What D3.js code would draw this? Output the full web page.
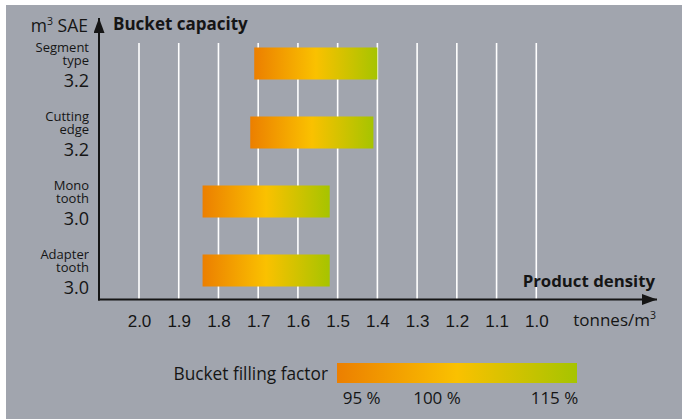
<!DOCTYPE html>
<html>
<head>
<meta charset="utf-8">
<script src="https://cdn.jsdelivr.net/npm/d3@7"></script>
<style>
  html, body { margin: 0; padding: 0; background: #ffffff; }
  svg { display: block; font-family: "Open Sans", "Noto Sans", sans-serif; }
  .name {
    font-family: "Open Sans", "Noto Sans", sans-serif;
    font-size: 13px; line-height: 12.8px; color: #151515;
    text-align: right; white-space: pre-line; margin: 0;
  }
</style>
</head>
<body>
<svg id="chart" width="682" height="419"></svg>
<script>
// Bucket types, their rated capacity (m³ SAE) and the product-density range
// (tonnes/m³) each suits, from high density (left end) to low density (right end).
const bucketNames = ["Segment\ntype", "Cutting\nedge", "Mono\ntooth", "Adapter\ntooth"];
const bucketCapacity = ["3.2", "3.2", "3.0", "3.0"];
const densityHigh = [1.71, 1.72, 1.84, 1.84];
const densityLow = [1.40, 1.41, 1.52, 1.52];
const densityTicks = [2.0, 1.9, 1.8, 1.7, 1.6, 1.5, 1.4, 1.3, 1.2, 1.1, 1.0];
const fillFactorTicks = [95, 100, 115];

const svg = d3.select("#chart");
const ink = "#151515";

// Grey panel
svg.append("rect").attr("x", 6).attr("y", 5).attr("width", 676).attr("height", 414).attr("fill", "#a1a5ae");

// Gradient shared by bars and legend: orange → yellow → green
const defs = svg.append("defs");
const grad = defs.append("linearGradient").attr("id", "fill-grad")
  .attr("x1", "0%").attr("x2", "100%").attr("y1", "0%").attr("y2", "0%");
grad.append("stop").attr("offset", "0%").attr("stop-color", "#ec7f00");
grad.append("stop").attr("offset", "50%").attr("stop-color", "#fac100");
grad.append("stop").attr("offset", "100%").attr("stop-color", "#a6c400");

const arrow = defs.append("marker").attr("id", "arrow")
  .attr("viewBox", "0 0 15 11").attr("refX", 15).attr("refY", 5.5)
  .attr("markerUnits", "userSpaceOnUse").attr("markerWidth", 15).attr("markerHeight", 11)
  .attr("orient", "auto");
arrow.append("path").attr("d", "M0,0 L15,5.5 L0,11 Z").attr("fill", ink);

// Scales
const x = d3.scaleLinear().domain([2.0, 1.0]).range([139, 536.3]);
const y = d3.scaleBand().domain(d3.range(bucketNames.length)).range([29, 305])
  .paddingInner(0.536).paddingOuter(0.268);

const axisY = 299.5, axisX = 99;

// Vertical grid lines
svg.append("g").selectAll("line").data(densityTicks).join("line")
  .attr("x1", d => x(d)).attr("x2", d => x(d))
  .attr("y1", 43).attr("y2", axisY)
  .attr("stroke", "#ffffff").attr("stroke-width", 1.6);

// Density bars
svg.append("g").selectAll("rect").data(d3.range(bucketNames.length)).join("rect")
  .attr("x", i => x(densityHigh[i]))
  .attr("width", i => x(densityLow[i]) - x(densityHigh[i]))
  .attr("y", i => y(i))
  .attr("height", y.bandwidth())
  .attr("fill", "url(#fill-grad)");

// Bottom axis with tick labels
const xAxis = d3.axisBottom(x).tickValues(densityTicks).tickFormat(d3.format(".1f")).tickSize(0).tickPadding(15);
const gx = svg.append("g").attr("transform", `translate(0,${axisY})`).call(xAxis);
gx.select(".domain").remove();
gx.selectAll("text").attr("font-size", 17).attr("fill", ink).attr("font-family", null);

// Axis lines with arrow heads
svg.append("line").attr("x1", axisX - 1).attr("x2", 657).attr("y1", axisY).attr("y2", axisY)
  .attr("stroke", ink).attr("stroke-width", 2).attr("marker-end", "url(#arrow)");
svg.append("line").attr("x1", axisX).attr("x2", axisX).attr("y1", axisY + 1).attr("y2", 18)
  .attr("stroke", ink).attr("stroke-width", 2).attr("marker-end", "url(#arrow)");

// Category labels on the left: two-line name block plus capacity
const labelX = 89;
const lab = svg.append("g").attr("fill", ink);
bucketNames.forEach((name, i) => {
  const c = y(i) + y.bandwidth() / 2;
  lab.append("foreignObject")
    .attr("x", labelX - 80).attr("y", c - 22.5).attr("width", 80).attr("height", 28)
    .append("xhtml:div").attr("class", "name").text(name);
  lab.append("text").attr("x", labelX).attr("y", c + 23.5).attr("text-anchor", "end")
    .attr("font-size", 18).text(bucketCapacity[i]);
});

// Axis titles
const t1 = svg.append("text").attr("x", 88).attr("y", 31.5).attr("text-anchor", "end")
  .attr("font-size", 17.5).attr("fill", ink);
t1.append("tspan").text("m");
t1.append("tspan").attr("font-size", 10.5).attr("dy", -7).text("3");
t1.append("tspan").attr("dy", 7).text(" SAE");

svg.append("text").attr("x", 113).attr("y", 29.5).attr("font-size", 17).attr("font-weight", 700)
  .attr("fill", ink).text("Bucket capacity");

svg.append("text").attr("x", 655).attr("y", 287).attr("text-anchor", "end").attr("font-size", 16.8)
  .attr("font-weight", 700).attr("fill", ink).text("Product density");

const t2 = svg.append("text").attr("x", 656).attr("y", 325.5).attr("text-anchor", "end")
  .attr("font-size", 17).attr("fill", ink);
t2.append("tspan").text("tonnes/m");
t2.append("tspan").attr("font-size", 10.5).attr("dy", -7).text("3");

// Legend: bucket filling factor
const legX = 337, legW = 240, legY = 363, legH = 20;
svg.append("text").attr("x", 328).attr("y", 380).attr("text-anchor", "end")
  .attr("font-size", 17.3).attr("fill", ink).text("Bucket filling factor");
svg.append("rect").attr("x", legX).attr("y", legY).attr("width", legW).attr("height", legH)
  .attr("fill", "url(#fill-grad)");

const ff = d3.scaleLinear().domain([95, 100, 115]).range([361.7, 437, 554.5]);
svg.append("g").selectAll("text").data(fillFactorTicks).join("text")
  .attr("x", d => ff(d)).attr("y", 404).attr("text-anchor", "middle")
  .attr("font-size", 17).attr("fill", ink).text(d => `${d} %`);
</script>
</body>
</html>
